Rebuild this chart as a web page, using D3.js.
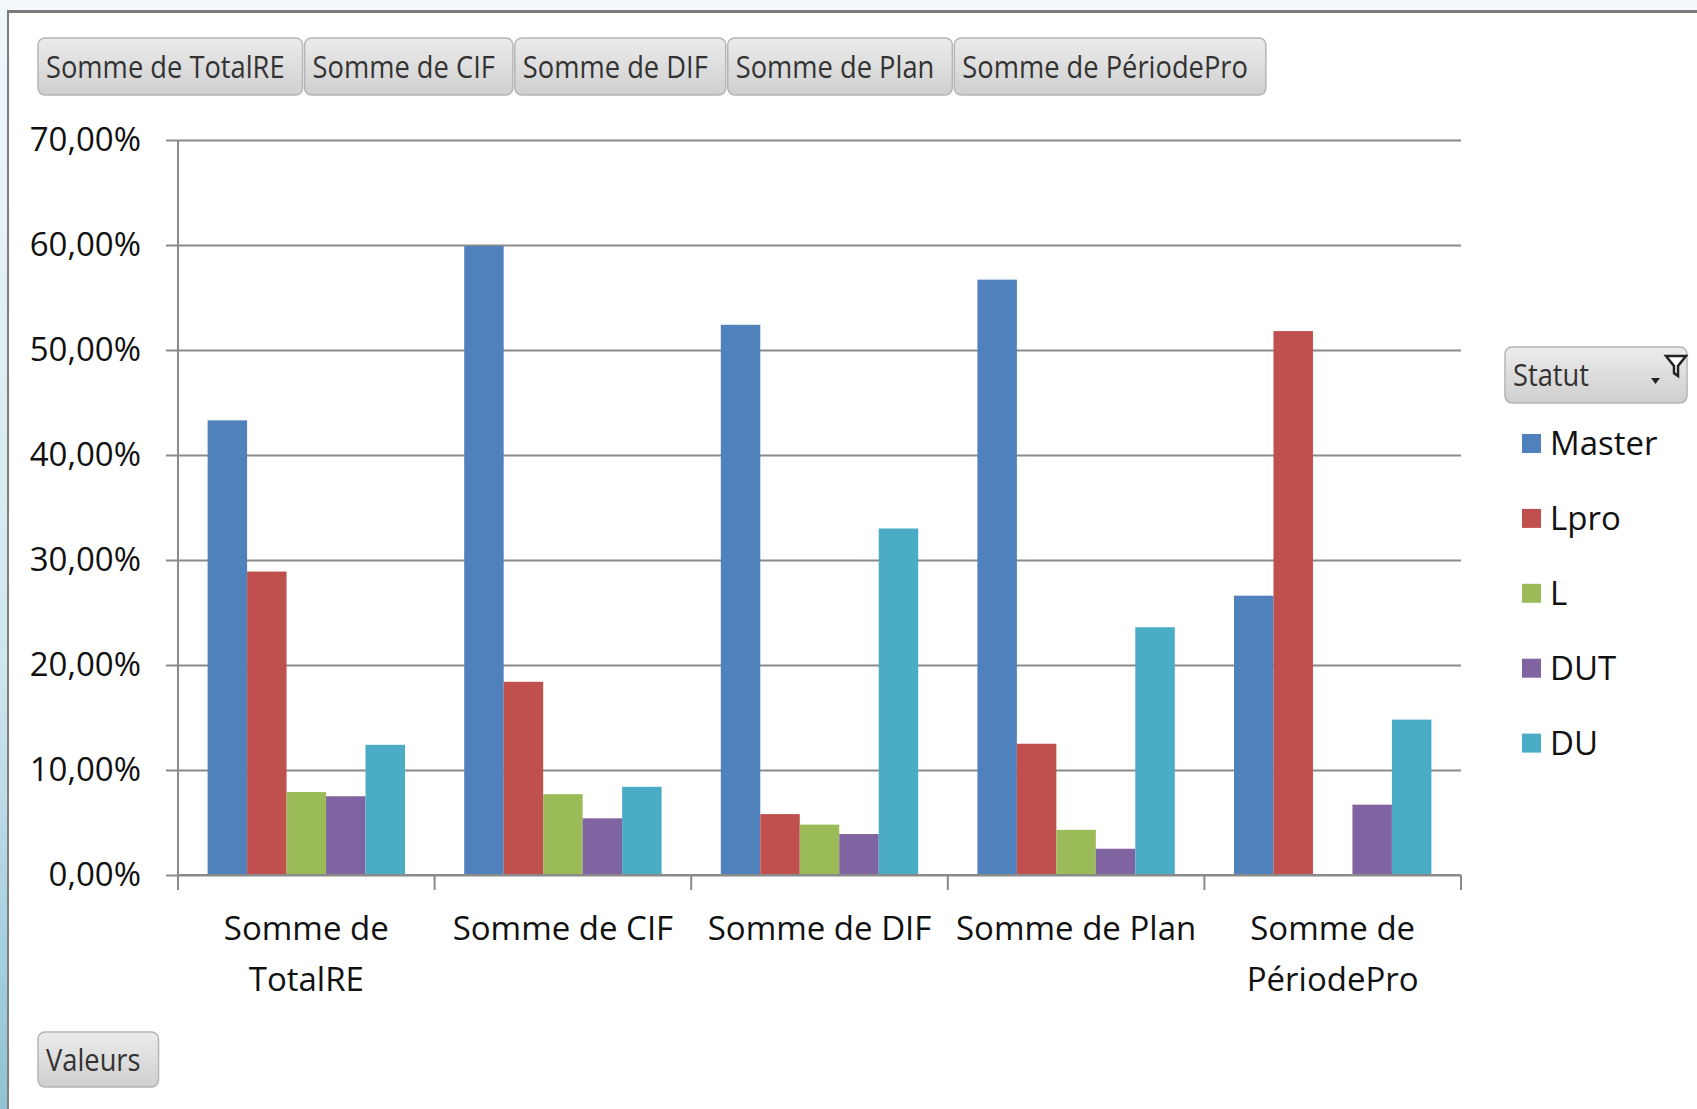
<!DOCTYPE html>
<html>
<head>
<meta charset="utf-8">
<script src="https://cdnjs.cloudflare.com/ajax/libs/d3/7.8.5/d3.min.js"></script>
<style>
  body { margin: 0; background: #fff; }
  svg { display: block; font-family: "Open Sans", "Noto Sans", sans-serif; }
</style>
</head>
<body>
<script>
// data (percent of total)
const categories = ["Somme de TotalRE", "Somme de CIF", "Somme de DIF", "Somme de Plan", "Somme de PériodePro"];
const seriesNames = ["Master", "Lpro", "L", "DUT", "DU"];
const master = [0.433, 0.599, 0.524, 0.567, 0.266];
const lpro   = [0.289, 0.184, 0.058, 0.125, 0.518];
const licence = [0.079, 0.077, 0.048, 0.043, 0];
const dut    = [0.075, 0.054, 0.039, 0.025, 0.067];
const du     = [0.124, 0.084, 0.330, 0.236, 0.148];
const yTicks = [0, 0.1, 0.2, 0.3, 0.4, 0.5, 0.6, 0.7];
const legendTitle = "Statut";
const valuesButton = "Valeurs";

const seriesValues = [master, lpro, licence, dut, du];
const colors = ['#4F81BD', '#C0504D', '#9BBB59', '#8064A2', '#4BACC6'];

const W = 1697, H = 1109;
const svg = d3.select('body').append('svg').attr('width', W).attr('height', H);

const defs = svg.append('defs');
const btnGrad = defs.append('linearGradient').attr('id', 'btn').attr('x1', 0).attr('y1', 0).attr('x2', 0).attr('y2', 1);
btnGrad.append('stop').attr('offset', '0%').attr('stop-color', '#ececec');
btnGrad.append('stop').attr('offset', '100%').attr('stop-color', '#cfcfcf');
const sideGrad = defs.append('linearGradient').attr('id', 'side').attr('x1', 0).attr('y1', 0).attr('x2', 0).attr('y2', 1);
sideGrad.append('stop').attr('offset', '0%').attr('stop-color', '#f0f8fb');
sideGrad.append('stop').attr('offset', '60%').attr('stop-color', '#cfe6ee');
sideGrad.append('stop').attr('offset', '100%').attr('stop-color', '#8fc3d3');

// window frame
svg.append('rect').attr('width', W).attr('height', H).attr('fill', '#f3f9fc');
svg.append('rect').attr('x', 0).attr('y', 0).attr('width', 8).attr('height', H).attr('fill', 'url(#side)');
svg.append('rect').attr('x', 9).attr('y', 13).attr('width', W - 9).attr('height', H - 13).attr('fill', '#fff');
svg.append('line').attr('x1', 7).attr('x2', W).attr('y1', 11.5).attr('y2', 11.5)
   .attr('stroke', '#7b7b7b').attr('stroke-width', 3);
svg.append('line').attr('x1', 8).attr('x2', 8).attr('y1', 10).attr('y2', H)
   .attr('stroke', '#7f7f7f').attr('stroke-width', 2);

function button(x, y, h, label, fixedW) {
  var g = svg.append('g').attr('transform', 'translate(' + x + ',' + y + ')');
  var r = g.append('rect').attr('height', h).attr('rx', 7)
           .attr('fill', 'url(#btn)').attr('stroke', '#b5b5b5').attr('stroke-width', 1.5);
  var t = g.append('text').attr('x', 8).attr('y', h / 2 + 11)
           .attr('font-size', 31).attr('fill', '#333').text(label);
  var len = t.node().getComputedTextLength() * 0.88;
  t.attr('textLength', len).attr('lengthAdjust', 'spacingAndGlyphs');
  var w = fixedW || len + 26;
  r.attr('width', w);
  return w;
}

// field buttons across the top
var bx = 38;
categories.forEach(c => { bx += button(bx, 38, 57, c) + 2; });
button(38, 1032, 55, valuesButton);

// scales
const x0 = d3.scaleBand().domain(categories).range([178, 1461]);
const x1 = d3.scaleBand().domain(seriesNames).range([0, x0.bandwidth()]).paddingOuter(0.75);
const y = d3.scaleLinear().domain([0, 0.7]).range([875, 140]);

const pct = d3.formatLocale({ decimal: ',', thousands: ' ', grouping: [3], currency: ['', '€'] }).format('.2%');

// gridlines
svg.append('g').attr('transform', 'translate(178,0)')
   .call(d3.axisLeft(y).tickValues(yTicks).tickSize(-(1461 - 178)).tickFormat(''))
   .call(g => g.select('.domain').remove())
   .call(g => g.selectAll('line').attr('stroke', '#8a8a8a').attr('stroke-width', 2));

// y axis
svg.append('g').attr('transform', 'translate(178,0)')
   .call(d3.axisLeft(y).tickValues(yTicks).tickSize(12).tickPadding(25).tickFormat(pct))
   .call(g => g.select('.domain').remove())
   .call(g => g.selectAll('line').attr('stroke', '#8a8a8a').attr('stroke-width', 2))
   .call(g => g.selectAll('text').attr('font-size', 33).attr('fill', '#111')
                .attr('font-family', '"Open Sans", sans-serif'));
svg.append('line').attr('x1', 178).attr('x2', 178).attr('y1', 140).attr('y2', 890)
   .attr('stroke', '#8a8a8a').attr('stroke-width', 2);

// bars
const groups = svg.append('g').selectAll('g').data(categories).enter()
  .append('g').attr('transform', d => 'translate(' + x0(d) + ',0)');
groups.selectAll('rect')
  .data((d, i) => seriesNames.map((s, j) => ({ s: s, v: seriesValues[j][i], c: colors[j] })))
  .enter().append('rect')
  .attr('x', d => x1(d.s))
  .attr('width', x1.bandwidth())
  .attr('y', d => y(d.v))
  .attr('height', d => y(0) - y(d.v))
  .attr('fill', d => d.c);

// x axis: baseline, boundary ticks, wrapped labels
svg.append('line').attr('x1', 178).attr('x2', 1461).attr('y1', y(0)).attr('y2', y(0))
   .attr('stroke', '#8a8a8a').attr('stroke-width', 2);
const bounds = categories.map(c => x0(c)).concat([x0.range()[1]]);
svg.append('g').selectAll('line').data(bounds).enter().append('line')
   .attr('x1', d => d).attr('x2', d => d).attr('y1', y(0)).attr('y2', 890)
   .attr('stroke', '#8a8a8a').attr('stroke-width', 2);

const xAxis = svg.append('g').attr('transform', 'translate(0,' + y(0) + ')')
   .call(d3.axisBottom(x0).tickSize(0))
   .call(g => g.select('.domain').remove());
xAxis.selectAll('text')
   .attr('font-size', 33).attr('fill', '#111').attr('font-family', '"Open Sans", sans-serif')
   .attr('dy', null).attr('y', 65)
   .each(function(d) {
     var text = d3.select(this), words = d.split(' '), lines = [], line = [];
     text.text(null);
     var probe = text.append('tspan');
     words.forEach(w => {
       line.push(w);
       probe.text(line.join(' '));
       if (probe.node().getComputedTextLength() > x0.bandwidth() - 4 && line.length > 1) {
         line.pop();
         lines.push(line.join(' '));
         line = [w];
       }
     });
     lines.push(line.join(' '));
     probe.remove();
     lines.forEach((l, i) => {
       text.append('tspan').attr('x', 0).attr('dy', i === 0 ? 0 : 51).text(l);
     });
   });

// legend
button(1505, 347, 56, legendTitle, 182);
const fil = svg.append('g').attr('transform', 'translate(1666,356)');
fil.append('path').attr('d', 'M0,0 L20,0 L12,10 L12,20 L8,17 L8,10 Z')
   .attr('fill', '#fff').attr('stroke', '#222').attr('stroke-width', 2.5);
fil.append('path').attr('d', 'M-15,22 L-6,22 L-10.5,28 Z').attr('fill', '#222');

const legend = svg.append('g').selectAll('g').data(seriesNames).enter()
  .append('g').attr('transform', (d, i) => 'translate(1522,' + (443 + i * 74.9) + ')');
legend.append('rect').attr('x', 0).attr('y', -9).attr('width', 19).attr('height', 19)
  .attr('fill', (d, i) => colors[i]);
legend.append('text').attr('x', 28).attr('y', 12).attr('font-size', 33).attr('fill', '#111')
  .text(d => d);
</script>
</body>
</html>
